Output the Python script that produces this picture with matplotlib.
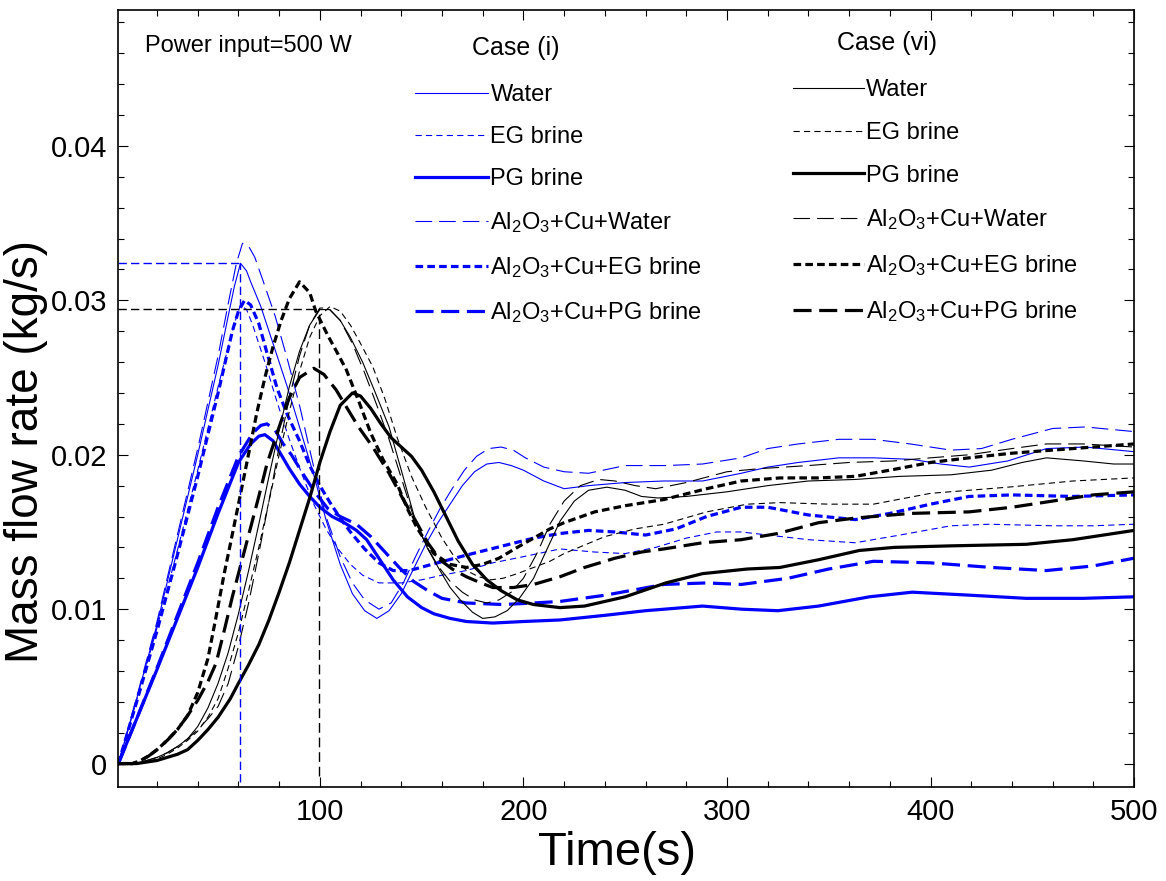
import matplotlib
matplotlib.use('Agg')
import matplotlib.pyplot as plt
from matplotlib.ticker import MultipleLocator, FuncFormatter

plt.rcParams['font.family'] = ['Liberation Sans', 'DejaVu Sans']
plt.rcParams['mathtext.default'] = 'regular'
plt.rcParams['lines.scale_dashes'] = False

# ---- Case (i) (blue) ----
t_water_i = [1, 10, 20, 30, 40, 50, 55, 58, 61, 64, 66, 71, 77, 84, 90, 97, 103, 110, 116, 122, 128, 134,
             140, 146, 152, 158, 164, 170, 176, 182, 188, 194, 200, 210, 220, 232, 250, 269, 288, 307,
             320, 335, 355, 372, 391, 405, 419, 438, 457, 476, 500]
m_water_i = [0, 0.0042, 0.0090, 0.0145, 0.0200, 0.0258, 0.0290, 0.0309, 0.0324, 0.0319, 0.0312, 0.0296,
             0.0272, 0.0244, 0.0218, 0.0187, 0.0158, 0.0129, 0.0110, 0.0099, 0.0094, 0.0099,
             0.0110, 0.0126, 0.0142, 0.0156, 0.0168, 0.0180, 0.0189, 0.0194, 0.0195, 0.0193, 0.0190,
             0.0183, 0.0178, 0.0180, 0.0182, 0.0183, 0.0183, 0.0188, 0.0192, 0.0195, 0.0198, 0.0198,
             0.0197, 0.0194, 0.0192, 0.0196, 0.0204, 0.0205, 0.0202]

t_eg_i = [1, 10, 20, 30, 40, 50, 55, 58, 61, 64, 67, 73, 79, 85, 91, 97, 103, 109, 115, 121, 129, 140,
          150, 160, 172, 185, 200, 218, 235, 250, 265, 280, 295, 307, 320, 340, 363, 385, 410, 429, 460,
          480, 500]
m_eg_i = [0, 0.0041, 0.0088, 0.0138, 0.0190, 0.0244, 0.0270, 0.0285, 0.0297, 0.0294, 0.0284, 0.0260,
          0.0234, 0.0210, 0.0188, 0.0168, 0.0152, 0.0139, 0.0129, 0.0122, 0.0117, 0.0117, 0.0119, 0.0122,
          0.0125, 0.0130, 0.0134, 0.0139, 0.0137, 0.0136, 0.0140, 0.0146, 0.0150, 0.0150, 0.0148, 0.0145,
          0.0143, 0.0148, 0.0154, 0.0155, 0.0154, 0.0154, 0.0155]

t_pg_i = [1, 10, 20, 30, 40, 50, 60, 66, 70, 73, 77, 81, 85, 90, 95, 100, 106, 112, 118, 123, 129, 136,
          143, 150, 156, 164, 172, 185, 200, 218, 240, 260, 288, 307, 325, 345, 370, 391, 420, 447, 475,
          500]
m_pg_i = [0, 0.0029, 0.0061, 0.0094, 0.0127, 0.0162, 0.0195, 0.0207, 0.0212, 0.0213, 0.0209, 0.0200,
          0.0191, 0.0181, 0.0173, 0.0166, 0.0160, 0.0156, 0.0151, 0.0145, 0.0133, 0.0119, 0.0108, 0.0101,
          0.0097, 0.0094, 0.0092, 0.0091, 0.0092, 0.0093, 0.0096, 0.0099, 0.0102, 0.0100, 0.0099, 0.0102,
          0.0108, 0.0111, 0.0109, 0.0107, 0.0107, 0.0108]

t_nw_i = [1, 10, 20, 30, 40, 50, 55, 59, 62, 65, 68, 72, 78, 84, 90, 97, 103, 110, 116, 122, 129, 135,
          141, 147, 153, 159, 165, 171, 177, 183, 189, 195, 201, 210, 220, 232, 250, 270, 288, 307, 320,
          335, 355, 372, 390, 410, 425, 440, 460, 476, 500]
m_nw_i = [0, 0.0043, 0.0092, 0.0148, 0.0204, 0.0264, 0.0298, 0.0324, 0.0337, 0.0335, 0.0328, 0.0313,
          0.0290, 0.0262, 0.0232, 0.0192, 0.0160, 0.0134, 0.0117, 0.0106, 0.0100, 0.0104, 0.0117, 0.0134,
          0.0150, 0.0165, 0.0178, 0.0190, 0.0199, 0.0204, 0.0205, 0.0203, 0.0198, 0.0192, 0.0189, 0.0188,
          0.0193, 0.0193, 0.0194, 0.0198, 0.0204, 0.0207, 0.0210, 0.0210, 0.0207, 0.0203, 0.0204, 0.0210,
          0.0217, 0.0218, 0.0215]

t_neg_i = [1, 10, 20, 30, 40, 50, 57, 60, 63, 66, 70, 74, 79, 84, 90, 95, 100, 105, 110, 115, 122, 129,
           136, 144, 155, 172, 190, 205, 218, 232, 245, 260, 275, 290, 307, 320, 340, 363, 380, 400, 419,
           440, 470, 500]
m_neg_i = [0, 0.0040, 0.0086, 0.0135, 0.0186, 0.0240, 0.0280, 0.0293, 0.0300, 0.0297, 0.0285, 0.0266,
           0.0243, 0.0226, 0.0209, 0.0193, 0.0180, 0.0169, 0.0159, 0.0150, 0.0139, 0.0130, 0.0125, 0.0125,
           0.0129, 0.0135, 0.0141, 0.0146, 0.0149, 0.0151, 0.0150, 0.0148, 0.0152, 0.0160, 0.0166, 0.0166,
           0.0161, 0.0158, 0.0162, 0.0168, 0.0173, 0.0174, 0.0173, 0.0174]

t_npg_i = [1, 10, 20, 30, 40, 50, 60, 67, 71, 74, 78, 82, 86, 92, 98, 104, 110, 118, 125, 132, 139, 146,
           153, 160, 172, 190, 205, 218, 240, 269, 290, 307, 330, 350, 372, 400, 430, 457, 480, 500]
m_npg_i = [0, 0.0029, 0.0062, 0.0096, 0.0130, 0.0166, 0.0199, 0.0214, 0.0219, 0.0220, 0.0216, 0.0207,
           0.0200, 0.0187, 0.0175, 0.0165, 0.0160, 0.0155, 0.0147, 0.0137, 0.0127, 0.0118, 0.0112, 0.0107,
           0.0104, 0.0103, 0.0104, 0.0105, 0.0109, 0.0116, 0.0117, 0.0116, 0.0120, 0.0126, 0.0131, 0.0130,
           0.0127, 0.0125, 0.0128, 0.0133]

# ---- Case (vi) (black) ----
t_water_vi = [1, 10, 15, 20, 25, 30, 35, 40, 45, 50, 55, 60, 65, 70, 75, 80, 85, 90, 95, 100, 105, 110,
              115, 121, 127, 134, 140, 147, 153, 159, 164, 169, 175, 180, 186, 192, 198, 205, 212, 218,
              225, 232, 241, 250, 258, 266, 280, 300, 320, 340, 363, 385, 410, 430, 445, 457, 475, 490, 500]
m_water_vi = [0, 0, 0.0002, 0.0004, 0.0007, 0.0011, 0.0016, 0.0024, 0.0036, 0.0052, 0.0072, 0.0097,
              0.0125, 0.0155, 0.0186, 0.0216, 0.0244, 0.0267, 0.0284, 0.0294, 0.0294, 0.0287, 0.0276,
              0.0260, 0.0241, 0.0218, 0.0190, 0.0157, 0.0139, 0.0125, 0.0114, 0.0106, 0.0098, 0.0094,
              0.0095, 0.0099, 0.0107, 0.0120, 0.0140, 0.0157, 0.0170, 0.0177, 0.0179, 0.0177, 0.0173,
              0.0172, 0.0173, 0.0176, 0.0180, 0.0183, 0.0184, 0.0186, 0.0187, 0.0190, 0.0195, 0.0198,
              0.0196, 0.0194, 0.0194]

t_eg_vi = [1, 10, 15, 20, 25, 30, 35, 40, 45, 50, 55, 60, 65, 70, 75, 80, 85, 90, 95, 100, 105, 110, 115,
           120, 126, 132, 138, 145, 152, 160, 166, 172, 178, 184, 190, 197, 205, 213, 220, 240, 255, 269,
           290, 310, 326, 350, 372, 400, 438, 470, 500]
m_eg_vi = [0, 0, 0.0001, 0.0003, 0.0006, 0.0010, 0.0015, 0.0021, 0.0030, 0.0042, 0.0062, 0.0085, 0.0112,
           0.0140, 0.0170, 0.0200, 0.0228, 0.0254, 0.0276, 0.0290, 0.0296, 0.0293, 0.0284, 0.0272, 0.0257,
           0.0236, 0.0211, 0.0186, 0.0166, 0.0146, 0.0134, 0.0125, 0.0121, 0.0119, 0.0120, 0.0123, 0.0127,
           0.0131, 0.0136, 0.0147, 0.0152, 0.0155, 0.0163, 0.0168, 0.0169, 0.0168, 0.0168, 0.0175, 0.0179,
           0.0183, 0.0185]

t_pg_vi = [1, 10, 15, 20, 25, 30, 35, 40, 45, 50, 56, 60, 65, 70, 75, 80, 85, 90, 95, 100, 105, 110, 116,
           120, 125, 130, 135, 140, 145, 150, 156, 162, 168, 175, 182, 189, 197, 205, 218, 230, 250, 270,
           288, 310, 326, 345, 365, 382, 410, 447, 470, 485, 500]
m_pg_vi = [0, 0, 0.0001, 0.0002, 0.0004, 0.0006, 0.0009, 0.0015, 0.0022, 0.0030, 0.0042, 0.0052, 0.0064,
           0.0077, 0.0093, 0.0111, 0.0130, 0.0151, 0.0172, 0.0195, 0.0215, 0.0232, 0.0240, 0.0238, 0.0230,
           0.0220, 0.0211, 0.0205, 0.0199, 0.0190, 0.0176, 0.0160, 0.0144, 0.0129, 0.0119, 0.0112, 0.0106,
           0.0103, 0.0101, 0.0102, 0.0108, 0.0117, 0.0123, 0.0126, 0.0127, 0.0132, 0.0138, 0.0140, 0.0141,
           0.0142, 0.0145, 0.0148, 0.0151]

t_nw_vi = [1, 10, 15, 20, 25, 30, 35, 40, 45, 50, 55, 60, 65, 70, 75, 80, 85, 90, 95, 100, 104, 110, 116,
           122, 128, 134, 140, 146, 152, 158, 164, 170, 176, 182, 188, 194, 200, 207, 213, 220, 228, 237,
           245, 255, 265, 280, 300, 316, 340, 360, 382, 400, 419, 440, 457, 475, 500]
m_nw_vi = [0, 0, 0.0002, 0.0004, 0.0007, 0.0011, 0.0016, 0.0022, 0.0029, 0.0037, 0.0052, 0.0076, 0.0104,
           0.0136, 0.0170, 0.0205, 0.0237, 0.0264, 0.0284, 0.0295, 0.0295, 0.0287, 0.0272, 0.0253, 0.0232,
           0.0210, 0.0185, 0.0160, 0.0142, 0.0128, 0.0118, 0.0111, 0.0106, 0.0104, 0.0106, 0.0111, 0.0120,
           0.0137, 0.0155, 0.0170, 0.0180, 0.0184, 0.0183, 0.0180, 0.0178, 0.0182, 0.0189, 0.0191, 0.0193,
           0.0195, 0.0196, 0.0198, 0.0200, 0.0204, 0.0207, 0.0207, 0.0205]

t_neg_vi = [1, 8, 12, 16, 20, 25, 30, 35, 40, 45, 49, 53, 56, 60, 64, 69, 73, 77, 81, 85, 90, 95, 98, 104,
            109, 113, 119, 125, 131, 138, 143, 148, 156, 164, 172, 180, 188, 197, 205, 213, 220, 235, 250,
            269, 290, 307, 326, 345, 363, 380, 400, 419, 440, 460, 480, 500]
m_neg_vi = [0, 0, 0.0002, 0.0005, 0.0009, 0.0015, 0.0022, 0.0031, 0.0046, 0.0068, 0.0095, 0.0123, 0.0142,
            0.0168, 0.0194, 0.0227, 0.0250, 0.0270, 0.0287, 0.0301, 0.0312, 0.0305, 0.0293, 0.0277, 0.0265,
            0.0255, 0.0235, 0.0214, 0.0197, 0.0181, 0.0165, 0.0152, 0.0136, 0.0129, 0.0127, 0.0129, 0.0133,
            0.0140, 0.0146, 0.0152, 0.0156, 0.0163, 0.0167, 0.0171, 0.0178, 0.0183, 0.0185, 0.0185, 0.0186,
            0.0190, 0.0195, 0.0198, 0.0201, 0.0203, 0.0205, 0.0207]

t_npg_vi = [1, 8, 12, 16, 20, 25, 30, 35, 40, 45, 49, 53, 57, 61, 66, 70, 74, 80, 85, 90, 97, 102, 108,
            113, 119, 126, 134, 141, 148, 153, 159, 165, 172, 179, 185, 195, 205, 218, 230, 245, 258, 269,
            288, 307, 325, 345, 363, 390, 419, 440, 460, 480, 500]
m_npg_vi = [0, 0, 0.0002, 0.0005, 0.0009, 0.0015, 0.0022, 0.0031, 0.0041, 0.0053, 0.0065, 0.0086, 0.0108,
            0.0128, 0.0153, 0.0173, 0.0194, 0.0218, 0.0237, 0.0250, 0.0256, 0.0252, 0.0242, 0.0231, 0.0218,
            0.0205, 0.0188, 0.0171, 0.0155, 0.0143, 0.0132, 0.0126, 0.0121, 0.0117, 0.0114, 0.0114, 0.0116,
            0.0121, 0.0127, 0.0133, 0.0137, 0.0139, 0.0143, 0.0145, 0.0149, 0.0156, 0.0159, 0.0162, 0.0163,
            0.0166, 0.0170, 0.0174, 0.0176]

fluids = ['Water', 'EG brine', 'PG brine', r'Al$_2$O$_3$+Cu+Water',
          r'Al$_2$O$_3$+Cu+EG brine', r'Al$_2$O$_3$+Cu+PG brine']

# peak markers (time, flow)
peak_i = (61, 0.0324)
peak_vi = (99.5, 0.02945)

case_i = [(t_water_i, m_water_i), (t_eg_i, m_eg_i), (t_pg_i, m_pg_i),
          (t_nw_i, m_nw_i), (t_neg_i, m_neg_i), (t_npg_i, m_npg_i)]
case_vi = [(t_water_vi, m_water_vi), (t_eg_vi, m_eg_vi), (t_pg_vi, m_pg_vi),
           (t_nw_vi, m_nw_vi), (t_neg_vi, m_neg_vi), (t_npg_vi, m_npg_vi)]

# line style for each fluid
styles = [
    dict(ls='-', lw=0.8),
    dict(ls=(0, (4.5, 3)), lw=0.8),
    dict(ls='-', lw=2.3),
    dict(ls=(0, (12, 5)), lw=0.8),
    dict(ls=(0, (5.5, 3)), lw=2.3),
    dict(ls=(0, (13, 5.5)), lw=2.3),
]

fig = plt.figure(figsize=(11.66, 8.81), dpi=100)
ax = fig.add_axes([0.1015, 0.107, 0.8711, 0.8816])

h_i = []
for (t, m), st in zip(case_i, styles):
    h, = ax.plot(t, m, color='#0000ff', **st)
    h_i.append(h)
h_vi = []
for (t, m), st in zip(case_vi, styles):
    h, = ax.plot(t, m, color='black', **st)
    h_vi.append(h)

x0 = 1
ax.hlines(peak_i[1], x0, peak_i[0], colors='#0000ff', lw=1.0, linestyles=(0, (6, 3)))
ax.vlines(peak_i[0], -0.0012, peak_i[1], colors='#0000ff', lw=1.0, linestyles=(0, (6, 3)))
ax.hlines(peak_vi[1], x0, peak_vi[0], colors='black', lw=1.0, linestyles=(0, (6, 3)))
ax.vlines(peak_vi[0], -0.0008, peak_vi[1], colors='black', lw=1.0, linestyles=(0, (7, 3.5)))

ax.set_xlim(1, 500)
ax.set_ylim(-0.0015, 0.0488)
ax.set_xticks([100, 200, 300, 400, 500])
ax.set_yticks([0, 0.01, 0.02, 0.03, 0.04])
ax.xaxis.set_minor_locator(MultipleLocator(20))
ax.yaxis.set_minor_locator(MultipleLocator(0.002))
ax.yaxis.set_major_formatter(FuncFormatter(lambda v, p: '%g' % v))
ax.tick_params(which='both', direction='in', top=True, right=True, width=0.8, labelsize=21)
ax.tick_params(which='major', length=7.5, pad=8)
ax.tick_params(which='minor', length=4.5)
for s in ax.spines.values():
    s.set_linewidth(1.2)

ax.set_xlabel('Time(s)', fontsize=34)
ax.set_ylabel('Mass flow rate (kg/s)', fontsize=33)
ax.xaxis.set_label_coords(0.491, -0.057)
ax.yaxis.set_label_coords(-0.069, 0.431)

leg1 = ax.legend(h_i, fluids, loc='upper left', bbox_to_anchor=(0.292, 0.905), frameon=False,
                 fontsize=17, handlelength=3.1, handletextpad=0.1, labelspacing=0.85,
                 borderpad=0, borderaxespad=0)
ax.add_artist(leg1)
ax.legend(h_vi, fluids, loc='upper left', bbox_to_anchor=(0.664, 0.911), frameon=False,
          fontsize=17, handlelength=3.0, handletextpad=0.1, labelspacing=0.88,
          borderpad=0, borderaxespad=0)

ax.text(0.026, 0.954, 'Power input=500 W', transform=ax.transAxes, fontsize=17, va='center', ha='left')
ax.text(0.391, 0.951, 'Case (i)', transform=ax.transAxes, fontsize=18, va='center', ha='center')
ax.text(0.757, 0.957, 'Case (vi)', transform=ax.transAxes, fontsize=18, va='center', ha='center')

fig.savefig('out.png', dpi=100)
